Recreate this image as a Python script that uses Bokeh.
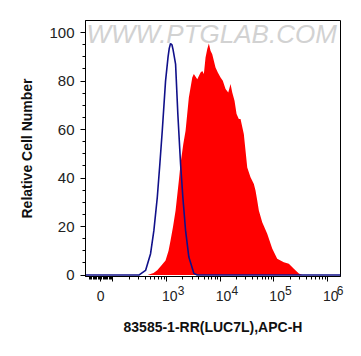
from bokeh.plotting import figure
from bokeh.models import FixedTicker, Range1d, Label, LinearAxis
from bokeh.embed import file_html
from bokeh.resources import INLINE
import numpy as np

# x in display decades (biexponential axis: 3 -> 10^3), y = relative cell number
red_x = [2.646, 2.758, 2.827, 2.907, 2.981, 3.037, 3.074, 3.121, 3.168, 3.229, 3.261,
         3.311, 3.354, 3.415, 3.479, 3.508, 3.572, 3.633, 3.665, 3.695, 3.726, 3.758,
         3.788, 3.819, 3.851, 3.881, 3.912, 3.955, 4.006, 4.048, 4.099, 4.149, 4.192,
         4.224, 4.266, 4.304, 4.346, 4.378, 4.439, 4.503, 4.564, 4.626, 4.657, 4.689,
         4.719, 4.782, 4.875, 4.968, 5.061, 5.184, 5.277, 5.371, 5.464, 5.527]
red_y = [0, 0.8, 2, 4, 6, 10, 14.3, 20, 26.6, 39, 46,
         54, 59.5, 73.2, 81.5, 82.9, 80.8, 83.5, 84.2, 82.9, 89.7, 93.2,
         95.5, 92.5, 91.1, 88.4, 85.6, 83.5, 81.5, 80.1, 76.7, 75.3, 78.8,
         75.3, 71.9, 66.4, 64.4, 64.4, 58.2, 44.4, 40.3, 37.6, 34.9, 30.7,
         26.6, 21.8, 17, 10.9, 6.7, 5.3, 4.7, 2.6, 0.6, 0]

blue_x = [1.49, 2.484, 2.609, 2.702, 2.764, 2.827, 2.875, 2.920, 2.981, 3.028, 3.05,
          3.074, 3.10, 3.121, 3.168, 3.210, 3.261, 3.304, 3.354, 3.415, 3.508, 3.572, 6.24]
blue_y = [0, 0, 1.9, 8.8, 18.4, 32, 45.8, 59.5, 80, 90, 93.5,
          95.5, 95, 93, 87, 66.4, 45.8, 32, 18.4, 7.4, 0.7, 0, 0]

# axis ticks (display-decade positions); "0" sits in the linear part of the biex scale
x_ticks = [1.77, 2, 3, 4, 5, 6]
zero_pos = 1.77
decade_ticks = [3, 4, 5, 6]
decade_base = "10"
decade_exp = ["3", "4", "5", "6"]
y_ticks = [0, 20, 40, 60, 80, 100]

x_title = "83585-1-RR(LUC7L),APC-H"
y_title = "Relative Cell Number"
watermark = "WWW.PTGLAB.COM"

X0, X1 = 1.49, 6.24
BASE_SHIFT = 0.06   # "10" drawn slightly right of its tick
SUP_SHIFT = 0.27    # exponent drawn to the upper right

# minor ticks: log positions per decade, compressed linear region around zero
minor_x = []
for d in range(2, 6):
    for k in range(2, 10):
        minor_x.append(d + np.log10(k))
for v in range(10, 100, 10):
    minor_x.append(zero_pos + 0.23 * v / 100)
    minor_x.append(zero_pos - 0.23 * v / 100)
minor_x = [float(m) for m in minor_x if X0 < m < X1]
minor_y = [float(v) for v in range(5, 101, 5) if v % 20 != 0]

p = figure(width=355, height=350, output_backend="svg", toolbar_location=None,
           x_range=Range1d(X0, X1), y_range=Range1d(-0.6, 105),
           min_border_left=85, min_border_right=15, min_border_top=20, min_border_bottom=74)
p.background_fill_color = "white"
p.border_fill_color = "white"
p.outline_line_color = "black"
p.outline_line_width = 1
p.grid.visible = False

lab = Label(x=3.84, y=99.3, text=watermark, text_align="center", text_baseline="middle",
            text_font="Liberation Sans", text_font_size="26px", text_font_style="italic",
            text_color="#d2d2d2")
p.add_layout(lab)

p.varea(x=red_x, y1=0, y2=red_y, fill_color="#ff0000")
p.line(blue_x, blue_y, line_color="#10108a", line_width=1.6)

# main x axis: line and ticks only
xa = p.xaxis[0]
xa.ticker = FixedTicker(ticks=x_ticks, minor_ticks=minor_x)
xa.major_label_overrides = {t: "" for t in x_ticks}
xa.major_label_text_font_size = "1px"
xa.major_label_standoff = 0

# exponent labels
p.extra_x_ranges = {"sup": Range1d(X0 - SUP_SHIFT, X1 - SUP_SHIFT),
                    "base": Range1d(X0 - BASE_SHIFT, X1 - BASE_SHIFT)}
sup_ticks = [min(t, X1 - SUP_SHIFT - 0.01) for t in decade_ticks]
ax_sup = LinearAxis(x_range_name="sup", ticker=FixedTicker(ticks=sup_ticks),
                    major_label_overrides={t: e for t, e in zip(sup_ticks, decade_exp)})
base_ticks = [zero_pos - BASE_SHIFT + 0.001] + decade_ticks
base_labels = ["0"] + [decade_base] * len(decade_ticks)
ax_base = LinearAxis(x_range_name="base", ticker=FixedTicker(ticks=base_ticks),
                     major_label_overrides={t: l for t, l in zip(base_ticks, base_labels)},
                     axis_label=x_title)
for ax in (ax_sup, ax_base):
    ax.axis_line_color = None
    ax.major_tick_line_color = None
    ax.minor_tick_line_color = None
    ax.major_tick_out = 0
    ax.major_tick_in = 0
    ax.minor_tick_out = 0
    ax.minor_tick_in = 0
    ax.major_label_text_font = "Liberation Sans"
    ax.major_label_text_color = "#222222"
ax_sup.major_label_text_font_size = "12px"
ax_sup.major_label_standoff = 4
ax_base.major_label_text_font_size = "14px"
ax_base.major_label_standoff = -7
ax_base.axis_label_text_font = "Liberation Sans"
ax_base.axis_label_text_font_style = "bold"
ax_base.axis_label_text_font_size = "14px"
ax_base.axis_label_text_color = "#111111"
ax_base.axis_label_standoff = 15
p.add_layout(ax_sup, "below")
p.add_layout(ax_base, "below")

ya = p.yaxis[0]
ya.ticker = FixedTicker(ticks=y_ticks, minor_ticks=minor_y)
ya.major_label_text_font_size = "15px"
ya.major_label_standoff = 6
ya.axis_label = y_title
ya.axis_label_standoff = 11
ya.axis_label_text_font = "Liberation Sans"
ya.axis_label_text_font_style = "bold"
ya.axis_label_text_font_size = "14px"
ya.axis_label_text_color = "#111111"
ya.major_label_text_font = "Liberation Sans"
ya.major_label_text_color = "#222222"

for ax in (xa, ya):
    ax.axis_line_color = "black"
    ax.major_tick_line_color = "black"
    ax.minor_tick_line_color = "black"
    ax.major_tick_out = 5
    ax.major_tick_in = 0
    ax.minor_tick_out = 3
    ax.minor_tick_in = 0

open("out.html", "w").write(file_html(p, INLINE))
